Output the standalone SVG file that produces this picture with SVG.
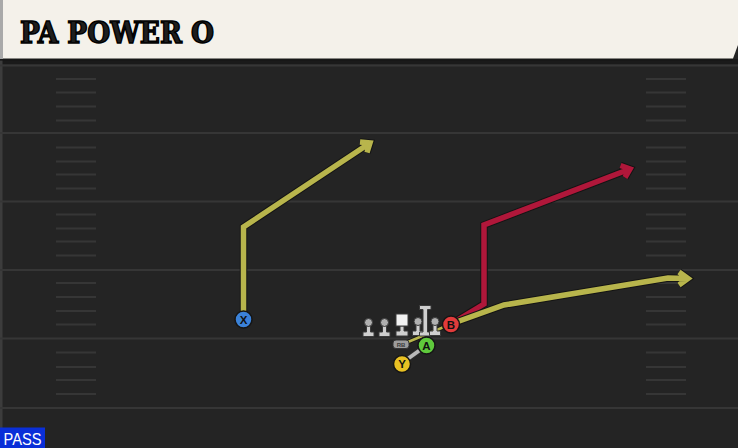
<svg xmlns="http://www.w3.org/2000/svg" width="738" height="448" viewBox="0 0 738 448">
<defs>
<style>
.yard{stroke:#363636;stroke-width:2}
.hash{stroke:#363636;stroke-width:2}
.outl{fill:none;stroke:#141414;stroke-width:7.5;stroke-linejoin:miter;stroke-linecap:butt}
.ylw{fill:none;stroke:#b8b54c;stroke-width:5.5;stroke-linejoin:miter}
.red{fill:none;stroke:#b0173a;stroke-width:5.5;stroke-linejoin:miter}
.lm{fill:#cfcfcf;stroke:#3a3a3a;stroke-width:1}
.head{fill:#b0b0b0;stroke:#3a3a3a;stroke-width:1}
.pc{stroke:#151515;stroke-width:1.5}
.pl{font-family:"Liberation Sans",Arial,sans-serif;font-weight:bold;font-size:11.5px;fill:#111;text-anchor:middle}
</style>
<g id="lineman">
<path class="lm" d="M-2,2 L-2,9.5 L-5.5,9.5 L-5.5,14 L5.5,14 L5.5,9.5 L2,9.5 L2,2 Z"/>
<circle class="head" cx="0" cy="0" r="4"/>
</g>
</defs>

<!-- field -->
<rect x="0" y="0" width="738" height="448" fill="#242424"/>
<rect x="0" y="59" width="738" height="5" fill="#1a1a1a"/>
<rect x="0" y="60" width="2.5" height="388" fill="#3c3c3c"/>
<g id="yardlines">
<line class="yard" x1="0" y1="65.5" x2="738" y2="65.5"/>
<line class="yard" x1="0" y1="133" x2="738" y2="133"/>
<line class="yard" x1="0" y1="201.5" x2="738" y2="201.5"/>
<line class="yard" x1="0" y1="270" x2="738" y2="270"/>
<line class="yard" x1="0" y1="338.5" x2="738" y2="338.5"/>
<line class="yard" x1="0" y1="408" x2="738" y2="408"/>
</g>
<g id="hashes">
<path class="hash" d="M56,79H96M56,92.5H96M56,106.5H96M56,120.5H96M56,147.5H96M56,161.5H96M56,174.5H96M56,188.5H96M56,214.5H96M56,228.5H96M56,241.5H96M56,255.5H96M56,283H96M56,297H96M56,311H96M56,324.5H96M56,352.5H96M56,367H96M56,380H96M56,394H96"/>
<path class="hash" d="M646,79H686M646,92.5H686M646,106.5H686M646,120.5H686M646,147.5H686M646,161.5H686M646,174.5H686M646,188.5H686M646,214.5H686M646,228.5H686M646,241.5H686M646,255.5H686M646,283H686M646,297H686M646,311H686M646,324.5H686M646,352.5H686M646,367H686M646,380H686M646,394H686"/>
</g>

<!-- header -->
<g id="header">
<path d="M0,0 H738 V46 L732,61 H0 Z" fill="#151515" opacity="0.6"/>
<path d="M3,0 H738 V45 L733,58.5 H3 Z" fill="#f4f1ea"/>
<rect x="0" y="0" width="3" height="59" fill="#a9a9a9"/>
<text x="20" y="43" font-family="'DejaVu Serif Condensed','DejaVu Serif',serif" font-weight="bold" font-size="29" fill="#1e1e1e" stroke="#000" stroke-width="1.4" textLength="194" lengthAdjust="spacingAndGlyphs">PA POWER O</text>
</g>

<!-- connectors / routes -->
<g id="routes">
<path class="outl" d="M243.5,319 L243.5,227 L370,143 M360,142 L370,143 L367,152.5"/>
<path class="ylw" d="M243.5,319 L243.5,227 L370,143 M360,142 L370,143 L367,152.5"/>
<path class="outl" d="M451,324 L484,304 L484,225 L630,169 M620.5,165.5 L630,169 L625,177.5"/>
<path class="red" d="M451,324 L484,304 L484,225 L630,169 M620.5,165.5 L630,169 L625,177.5"/>
<path fill="none" stroke="#141414" stroke-width="4.5" d="M408,342 L451,324"/>
<path fill="none" stroke="#b8b54c" stroke-width="2.5" d="M408,342 L451,324"/>
<path class="outl" d="M451,324 L504,305 L668,278 L687,278.5 M679,272 L688,278.5 L679,285"/>
<path class="ylw" d="M451,324 L504,305 L668,278 L687,278.5 M679,272 L688,278.5 L679,285"/>
<line x1="402" y1="363" x2="427" y2="345" stroke="#2a2a2a" stroke-width="6"/>
<line x1="402" y1="363" x2="427" y2="345" stroke="#b8b8b8" stroke-width="4"/>
</g>

<!-- linemen -->
<g id="lt"><use href="#lineman" x="368.5" y="322.5"/></g>
<g id="lg"><use href="#lineman" x="384.5" y="322.5"/></g>
<g id="c">
<path class="lm" d="M400,326 V331 H396 V336 H408 V331 H404 V326 Z"/>
<rect x="396" y="314" width="12" height="12" fill="#f2f2f2" stroke="#3a3a3a" stroke-width="1"/>
</g>
<g id="rg"><use href="#lineman" x="418" y="321.5"/></g>
<g id="te">
<path class="lm" d="M419.5,305.5 H431 V309.5 H427.5 V332 H431 V336 H419.5 V332 H423 V309.5 H419.5 Z"/>
</g>
<g id="rt"><use href="#lineman" x="435" y="321.5"/></g>

<g id="rb">
<rect x="393" y="340" width="16" height="8.5" rx="3" fill="#9c9c9c" stroke="#333" stroke-width="1"/>
<text x="401" y="346.5" font-family="'Liberation Sans',Arial,sans-serif" font-size="6" font-weight="bold" fill="#3a3a3a" text-anchor="middle">RB</text>
</g>

<g id="X">
<circle class="pc" cx="243.5" cy="319.5" r="8.5" fill="#3b82d9"/>
<text class="pl" x="243.5" y="323.5">X</text>
</g>
<g id="B">
<circle class="pc" cx="451" cy="324.5" r="8.5" fill="#e23b3b"/>
<text class="pl" x="451" y="328.5">B</text>
</g>
<g id="A">
<circle class="pc" cx="426.5" cy="345.5" r="8.5" fill="#5fc93c"/>
<text class="pl" x="426.5" y="349.5">A</text>
</g>
<g id="Y">
<circle class="pc" cx="402" cy="364" r="8.5" fill="#e9c123"/>
<text class="pl" x="402" y="368">Y</text>
</g>

<g id="pass">
<rect x="0" y="427.5" width="45" height="20.5" fill="#0a2fd8"/>
<text x="3.5" y="445" font-family="'Liberation Sans Narrow','Liberation Sans',Arial,sans-serif" font-size="17" fill="#ffffff" textLength="38" lengthAdjust="spacingAndGlyphs">PASS</text>
</g>
</svg>
